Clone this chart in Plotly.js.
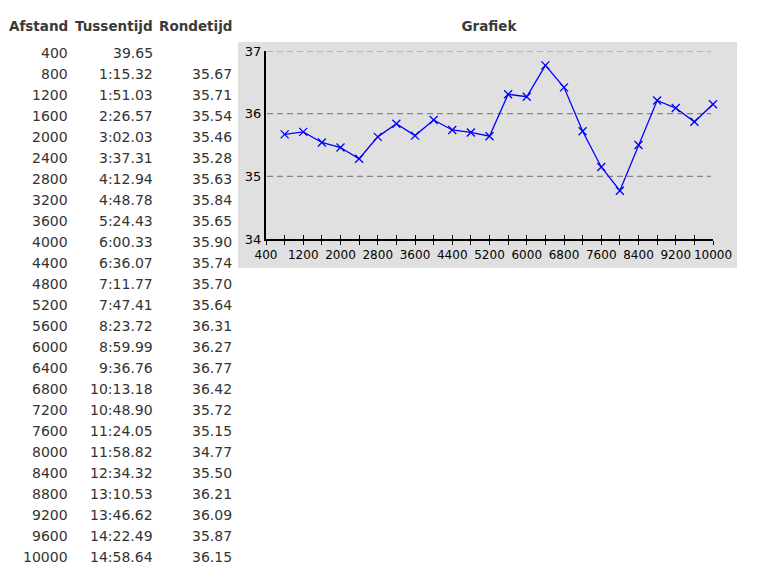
<!DOCTYPE html>
<html>
<head>
<meta charset="utf-8">
<script src="https://cdn.plot.ly/plotly-3.0.1.min.js"></script>
<style>
  html, body { margin: 0; padding: 0; background: #fff; }
  #chart { width: 770px; height: 578px; }
</style>
</head>
<body>
<div id="chart"></div>
<script>
// ---- data ----
const headers = ["Afstand", "Tussentijd", "Rondetijd"];
const afstand = [400, 800, 1200, 1600, 2000, 2400, 2800, 3200, 3600, 4000, 4400, 4800,
                 5200, 5600, 6000, 6400, 6800, 7200, 7600, 8000, 8400, 8800, 9200, 9600, 10000];
const tussentijd = ["39.65", "1:15.32", "1:51.03", "2:26.57", "3:02.03", "3:37.31", "4:12.94",
                    "4:48.78", "5:24.43", "6:00.33", "6:36.07", "7:11.77", "7:47.41", "8:23.72",
                    "8:59.99", "9:36.76", "10:13.18", "10:48.90", "11:24.05", "11:58.82",
                    "12:34.32", "13:10.53", "13:46.62", "14:22.49", "14:58.64"];
const rondetijd = [null, 35.67, 35.71, 35.54, 35.46, 35.28, 35.63, 35.84, 35.65, 35.90, 35.74, 35.70,
                   35.64, 36.31, 36.27, 36.77, 36.42, 35.72, 35.15, 34.77, 35.50, 36.21, 36.09, 35.87, 36.15];
const xTickVals = [400, 800, 1200, 1600, 2000, 2400, 2800, 3200, 3600, 4000, 4400, 4800, 5200,
                   5600, 6000, 6400, 6800, 7200, 7600, 8000, 8400, 8800, 9200, 9600, 10000];
const xTickText = ["400", "", "1200", "", "2000", "", "2800", "", "3600", "", "4400", "", "5200",
                   "", "6000", "", "6800", "", "7600", "", "8400", "", "9200", "", "10000"];
const yTickVals = [34, 35, 36, 37];
const yGridVals = [35, 36, 37];

// ---- geometry helpers (pixels -> paper) ----
const W = 770, H = 578;
const px = x => x / W;
const py = y => 1 - y / H;

const FONT = "DejaVu Sans, Verdana, sans-serif";

// chart points: only distances with a lap time
const chartX = [], chartY = [];
afstand.forEach((d, i) => { if (rondetijd[i] !== null) { chartX.push(d); chartY.push(rondetijd[i]); } });

const traces = [
  {
    x: chartX, y: chartY, type: "scatter", mode: "lines+markers", cliponaxis: false,
    line: { color: "#0000ff", width: 1.3 },
    marker: { symbol: "x-thin", size: 8, color: "#0000ff", line: { color: "#0000ff", width: 1.3 } },
    hoverinfo: "skip", showlegend: false
  },
  {
    x: [400, 10000], y: [34, 34], xaxis: "x2", yaxis: "y", type: "scatter", mode: "markers",
    marker: { opacity: 0, size: 1 }, hoverinfo: "skip", showlegend: false
  }
];

// ---- table as annotations ----
const annotations = [];
const colRight = [69, 154, 233];
const headerY = 26;
headers.forEach((h, c) => {
  annotations.push({
    text: "<b>" + h + "</b>", xref: "paper", yref: "paper", x: px(colRight[c] + 1), y: py(headerY),
    xanchor: "right", yanchor: "middle", showarrow: false,
    font: { family: FONT, size: 13.5, color: "#3a3a3a" }
  });
});
const row0 = 53, rowStep = 21;
afstand.forEach((d, i) => {
  const yy = py(row0 + i * rowStep);
  const cells = [String(d), tussentijd[i], rondetijd[i] === null ? "" : rondetijd[i].toFixed(2)];
  cells.forEach((t, c) => {
    if (t === "") return;
    annotations.push({
      text: t, xref: "paper", yref: "paper", x: px(colRight[c] + 1), y: yy,
      xanchor: "right", yanchor: "middle", showarrow: false,
      font: { family: FONT, size: 14, color: "#333333" }
    });
  });
});

const xDomain = [px(266), px(713)];
const yDomain = [py(239), py(51)];

const shapes = [
  {
    type: "rect", xref: "paper", yref: "paper", layer: "below",
    x0: px(238), x1: px(737), y0: py(268), y1: py(42),
    fillcolor: "#e0e0e0", line: { width: 0 }
  }
];
yGridVals.forEach(v => {
  shapes.push({
    type: "line", xref: "paper", yref: "y", layer: "below",
    x0: px(267), x1: px(711), y0: v, y1: v,
    line: { color: "#858585", width: 1.2, dash: "6px,4px" }
  });
});

const layout = {
  width: W, height: H,
  margin: { l: 0, r: 0, t: 0, b: 0 },
  paper_bgcolor: "#ffffff",
  plot_bgcolor: "rgba(0,0,0,0)",
  title: {
    text: "<b>Grafiek</b>", x: px(489), y: py(26), xanchor: "center", yanchor: "middle",
    xref: "paper", yref: "paper",
    font: { family: FONT, size: 13.5, color: "#3a3a3a" }
  },
  xaxis: {
    domain: xDomain, range: [400, 10000], fixedrange: true,
    tickmode: "array", tickvals: xTickVals, ticktext: xTickText,
    ticks: "outside", ticklen: 4, tickwidth: 1, tickcolor: "#000",
    showline: true, linecolor: "#000", linewidth: 2,
    showgrid: false, zeroline: false,
    tickfont: { family: FONT, size: 12, color: "#000" },
    anchor: "y"
  },
  xaxis2: {
    domain: xDomain, range: [400, 10000], overlaying: "x", anchor: "y", side: "bottom",
    tickmode: "array", tickvals: xTickVals, showticklabels: false,
    ticks: "inside", ticklen: 4, tickwidth: 1, tickcolor: "#000",
    showline: false, showgrid: false, zeroline: false, fixedrange: true
  },
  yaxis: {
    domain: yDomain, range: [34, 37], fixedrange: true,
    tickmode: "array", tickvals: yTickVals,
    ticks: "", showline: true, linecolor: "#000", linewidth: 2,
    showgrid: false, zeroline: false,
    tickfont: { family: FONT, size: 13, color: "#000" }
  },
  shapes: shapes,
  annotations: annotations,
  showlegend: false
};

Plotly.newPlot("chart", traces, layout, { displayModeBar: false, staticPlot: true });
</script>
</body>
</html>
